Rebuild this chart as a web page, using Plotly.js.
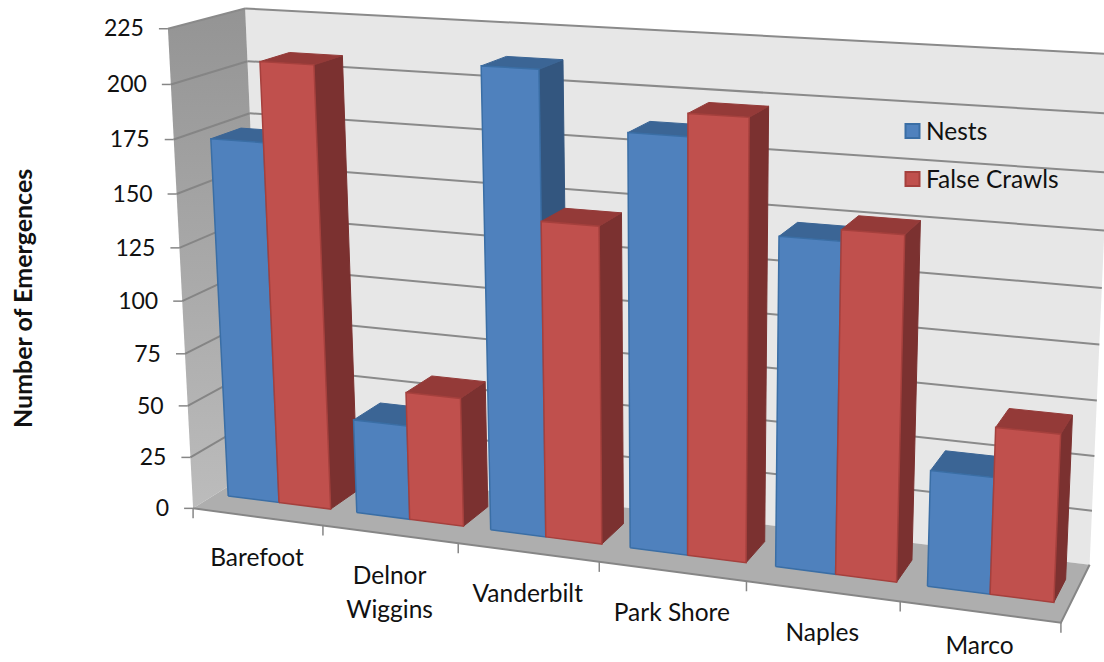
<!DOCTYPE html>
<html>
<head>
<meta charset="utf-8">
<script src="https://cdn.plot.ly/plotly-3.0.1.min.js"></script>
<style>html,body{margin:0;padding:0;background:#fff}#chart{width:1104px;height:662px}</style>
</head>
<body>
<div id="chart"></div>
<script>
// Turtle emergences by beach, drawn as an oblique 3D clustered column chart.
const categories = ['Barefoot', 'Delnor\nWiggins', 'Vanderbilt', 'Park Shore', 'Naples', 'Marco'];
const nests = [172, 45, 213, 188, 148, 52];
const falseCrawls = [209, 61, 146, 198, 153, 74];
const valueTicks = [0, 25, 50, 75, 100, 125, 150, 175, 200, 225];
const legendNames = ['Nests', 'False Crawls'];

const W = 1104, H = 662, VMAX = 225, NCAT = categories.length;
const FONT = 'Lato, "Open Sans", sans-serif';
const TEXT = '#111111';

// Reference frame of the box: [category position, value, depth 0..1] -> screen px.
const frame = [
  [0, 0, 0, 193, 508], [0, 225, 0, 168, 28], [0, 225, 1, 245, 8], [0, 0, 1, 265, 461],
  [0, 175, 1, 250, 115], [6, 0, 0, 1061, 622], [6, 0, 1, 1090, 566], [6, 225, 1, 1112, 54],
  [1, 0, 0, 323, 527], [2, 0, 0, 459, 545], [3, 0, 0, 599, 562], [4, 0, 0, 746, 581], [5, 0, 0, 900, 600]
];

// Least-squares fit of a perspective camera to the frame.
function fitCamera(rows) {
  const n = 11, A = Array.from({length: n}, () => new Array(n + 1).fill(0));
  const add = (r, b) => {
    for (let i = 0; i < n; i++) {
      for (let j = 0; j < n; j++) A[i][j] += r[i] * r[j];
      A[i][n] += r[i] * b;
    }
  };
  rows.forEach(([cx, v, z, u, w]) => {
    const X = cx / NCAT, Y = v / VMAX;
    add([X, Y, z, 1, 0, 0, 0, 0, -u * X, -u * Y, -u * z], u);
    add([0, 0, 0, 0, X, Y, z, 1, -w * X, -w * Y, -w * z], w);
  });
  for (let i = 0; i < n; i++) {
    let piv = i;
    for (let k = i + 1; k < n; k++) if (Math.abs(A[k][i]) > Math.abs(A[piv][i])) piv = k;
    [A[i], A[piv]] = [A[piv], A[i]];
    for (let k = 0; k < n; k++) {
      if (k === i) continue;
      const f = A[k][i] / A[i][i];
      for (let j = i; j <= n; j++) A[k][j] -= f * A[i][j];
    }
  }
  return A.map((row, i) => row[n] / row[i]);
}
const cam = fitCamera(frame);
function project(cx, v, z) {
  const X = cx / NCAT, Y = v / VMAX;
  const d = cam[8] * X + cam[9] * Y + cam[10] * z + 1;
  return [(cam[0] * X + cam[1] * Y + cam[2] * z + cam[3]) / d,
          (cam[4] * X + cam[5] * Y + cam[6] * z + cam[7]) / d];
}

const traces = [];
function polygon(points, fill, line, lineWidth, extra) {
  const p = points.concat([points[0]]);
  traces.push(Object.assign({
    type: 'scatter', mode: lineWidth ? 'lines' : 'none', x: p.map(q => q[0]), y: p.map(q => q[1]),
    fill: 'toself', fillcolor: fill, line: {color: line || fill, width: lineWidth || 0},
    hoverinfo: 'skip', showlegend: false
  }, extra || {}));
}
function polyline(segments, color, width) {
  const x = [], y = [];
  segments.forEach(s => { s.forEach(q => { x.push(q[0]); y.push(q[1]); }); x.push(null); y.push(null); });
  traces.push({type: 'scatter', mode: 'lines', x, y, line: {color, width}, hoverinfo: 'skip', showlegend: false});
}

// Walls and floor
polygon([project(0, 0, 1), project(NCAT, 0, 1), project(NCAT, VMAX, 1), project(0, VMAX, 1)], '#e7e7e7');
polygon([project(0, 0, 0), project(0, 0, 1), project(0, VMAX, 1), project(0, VMAX, 0)], '#a8a8a8', null, 0, {
  fillgradient: {type: 'vertical', colorscale: [[0, '#bcbcbc'], [1, '#949494']]}
});
polygon([project(0, 0, 0), project(NCAT, 0, 0), project(NCAT, 0, 1), project(0, 0, 1)], '#aeaeae');

// Gridlines run along the side wall and across the back wall
polyline(valueTicks.filter(v => v > 0 && v < VMAX).map(v => [project(0, v, 0), project(0, v, 1)]), '#858585', 2);
polyline(valueTicks.filter(v => v > 0).map(v => [project(0, v, 1), project(NCAT, v, 1)]), '#8a8a8a', 2);
polyline([[project(0, VMAX, 0), project(0, VMAX, 1)]], '#8a8a8a', 2);

// Axis edge and tick marks
polyline([[project(0, 0, 0), project(NCAT, 0, 0), project(NCAT, 0, 1)]], '#868686', 2);
polyline(valueTicks.map(v => { const p = project(0, v, 0); return [[p[0] - 9, p[1]], p]; }), '#868686', 1.5);
polyline(categories.map((c, i) => i).concat([NCAT]).map(i => { const p = project(i, 0, 0); return [p, [p[0], p[1] + 10]]; }), '#868686', 1.5);

// Columns: furthest (left) first; each one side, then top, then front
const GAP = 0.1, BAR = (1 - 2 * GAP) / 2, Z0 = 0.3, Z1 = 0.7;
const styles = [
  {front: '#4f81bd', top: '#3b6595', side: '#33567f', edge: '#3a6ea5'},
  {front: '#c0504d', top: '#943a38', side: '#7b3130', edge: '#a5403d'}
];
categories.forEach((c, i) => {
  [nests[i], falseCrawls[i]].forEach((v, s) => {
    const L = i + GAP + s * BAR, R = L + BAR, st = styles[s];
    polygon([project(R, 0, Z0), project(R, 0, Z1), project(R, v, Z1), project(R, v, Z0)], st.side, st.side, 1);
    polygon([project(L, v, Z0), project(R, v, Z0), project(R, v, Z1), project(L, v, Z1)], st.top, st.top, 1);
    polygon([project(L, 0, Z0), project(R, 0, Z0), project(R, v, Z0), project(L, v, Z0)], st.front, st.edge, 1.5);
  });
});

// Value labels beside the front edge of the side wall
const tickPts = valueTicks.map(v => project(0, v, 0));
traces.push({
  type: 'scatter', mode: 'text', x: tickPts.map(p => p[0] - 24), y: tickPts.map(p => p[1] + 2),
  text: valueTicks.map(String), textposition: 'middle left',
  textfont: {family: FONT, size: 23, color: TEXT}, hoverinfo: 'skip', showlegend: false
});

// Category labels under the floor, one text point per line; kept clear of the page's bottom edge
const labX = [], labY = [], labT = [];
categories.forEach((c, i) => {
  const a = project(i, 0, 0), b = project(i + 1, 0, 0);
  c.split('\n').forEach((line, k) => {
    labX.push((a[0] + b[0]) / 2 - 1);
    labY.push(Math.min((a[1] + b[1]) / 2 + 43 + k * 34, H - 14));
    labT.push(line);
  });
});
traces.push({
  type: 'scatter', mode: 'text', x: labX, y: labY, text: labT, textposition: 'middle center',
  textfont: {family: FONT, size: 24.5, color: TEXT}, hoverinfo: 'skip', showlegend: false
});

// Key placed on the back wall
legendNames.forEach((name, s) => {
  const st = styles[s], y = 131 + s * 48;
  traces.push({
    type: 'scatter', mode: 'markers', x: [912.5], y: [y], name, hoverinfo: 'skip', showlegend: false,
    marker: {symbol: 'square', size: 14, color: st.front, line: {color: st.edge, width: 2}}
  });
  traces.push({
    type: 'scatter', mode: 'text', x: [926], y: [y + 3], text: [name], textposition: 'middle right',
    textfont: {family: FONT, size: 24.5, color: TEXT}, hoverinfo: 'skip', showlegend: false
  });
});

Plotly.newPlot('chart', traces, {
  width: W, height: H, margin: {l: 0, r: 0, t: 0, b: 0},
  paper_bgcolor: '#ffffff', plot_bgcolor: '#ffffff', showlegend: false,
  xaxis: {range: [0, W], visible: false, fixedrange: true},
  yaxis: {range: [H, 0], visible: false, fixedrange: true},
  annotations: [{
    text: '<b>Number of Emergences</b>', textangle: -90, xref: 'x', yref: 'y', x: 22, y: 299,
    showarrow: false, font: {family: FONT, size: 25, color: TEXT}
  }]
}, {displayModeBar: false, staticPlot: true});
</script>
</body>
</html>
